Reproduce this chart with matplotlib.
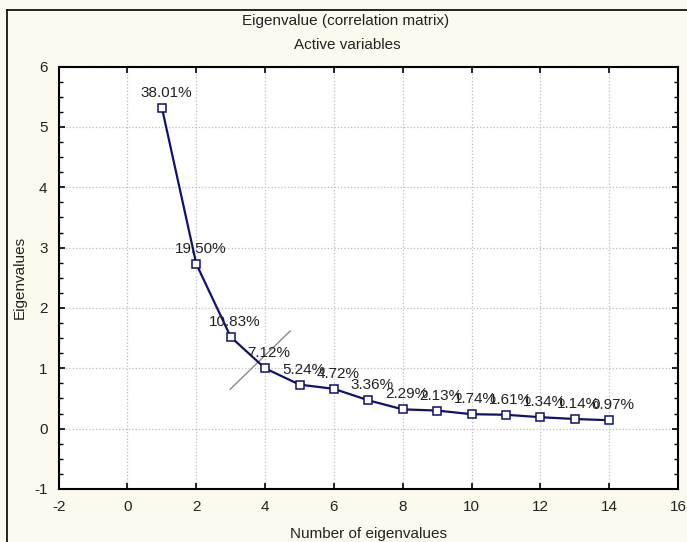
import numpy as np
import matplotlib.pyplot as plt
from matplotlib.lines import Line2D
from matplotlib.ticker import MultipleLocator

plt.rcParams['font.family'] = ['Liberation Sans', 'DejaVu Sans']
plt.rcParams['axes.unicode_minus'] = False

# Valores
n_autovalor = [1, 2, 3, 4, 5, 6, 7, 8, 9, 10, 11, 12, 13, 14]
autovalores = [5.32, 2.73, 1.52, 1.00, 0.73, 0.66, 0.47, 0.32, 0.30, 0.24, 0.23, 0.19, 0.16, 0.14]
rotulos = ['38.01%', '19.50%', '10.83%', '7.12%', '5.24%', '4.72%', '3.36%',
           '2.29%', '2.13%', '1.74%', '1.61%', '1.34%', '1.14%', '0.97%']

# linha do "cotovelo"
cotovelo_x = [2.98, 4.73]
cotovelo_y = [0.65, 1.62]

fig = plt.figure(figsize=(6.87, 5.42), dpi=100)
fig.patch.set_facecolor('#fcf9ee')
ax = fig.add_axes([0.0854, 0.0978, 0.9015, 0.7792])
ax.set_facecolor('white')

ax.plot(n_autovalor, autovalores, color='#10106e', lw=1.6, marker='s', ms=5.5,
        mfc='white', mec='#10106e', mew=1.1, zorder=3)
for x, y, r in zip(n_autovalor, autovalores, rotulos):
    ax.annotate(r, (x, y), xytext=(4, 15), textcoords='offset pixels',
                ha='center', va='center', fontsize=11, color='#222222', zorder=4)

ax.plot(cotovelo_x, cotovelo_y, color='#808080', lw=0.9, zorder=2)

ax.set_xlim(-2, 16)
ax.set_ylim(-1, 6)
ax.xaxis.set_major_locator(MultipleLocator(2))
ax.yaxis.set_major_locator(MultipleLocator(1))
ax.yaxis.set_minor_locator(MultipleLocator(0.25))
ax.grid(True, which='major', ls=':', color='#bbbbbb', lw=0.9)
ax.tick_params(which='both', direction='in', top=True, right=True, labelsize=11,
               colors='black', labelcolor='#222222')
ax.tick_params(which='major', length=4, width=1.2, pad=8)
ax.tick_params(which='minor', length=3, width=1.0)
for s in ax.spines.values():
    s.set_linewidth(1.5)

ax.set_xlabel('Number of eigenvalues', fontsize=11, color='#222222', labelpad=9)
ax.set_ylabel('Eigenvalues', fontsize=11, color='#222222', labelpad=5)

fig.text(0.503, 1 - 21/542, 'Eigenvalue (correlation matrix)', ha='center', va='center',
         fontsize=11, color='#222222')
fig.text(0.506, 1 - 45/542, 'Active variables', ha='center', va='center',
         fontsize=11, color='#222222')

# moldura da figura (esquerda e topo)
fig.add_artist(Line2D([7/687, 7/687], [0, 1 - 10/542], color='black', lw=1.2,
                      transform=fig.transFigure))
fig.add_artist(Line2D([7/687, 1], [1 - 10/542, 1 - 10/542], color='black', lw=1.2,
                      transform=fig.transFigure))

fig.savefig('out.png', dpi=100, facecolor=fig.get_facecolor())
